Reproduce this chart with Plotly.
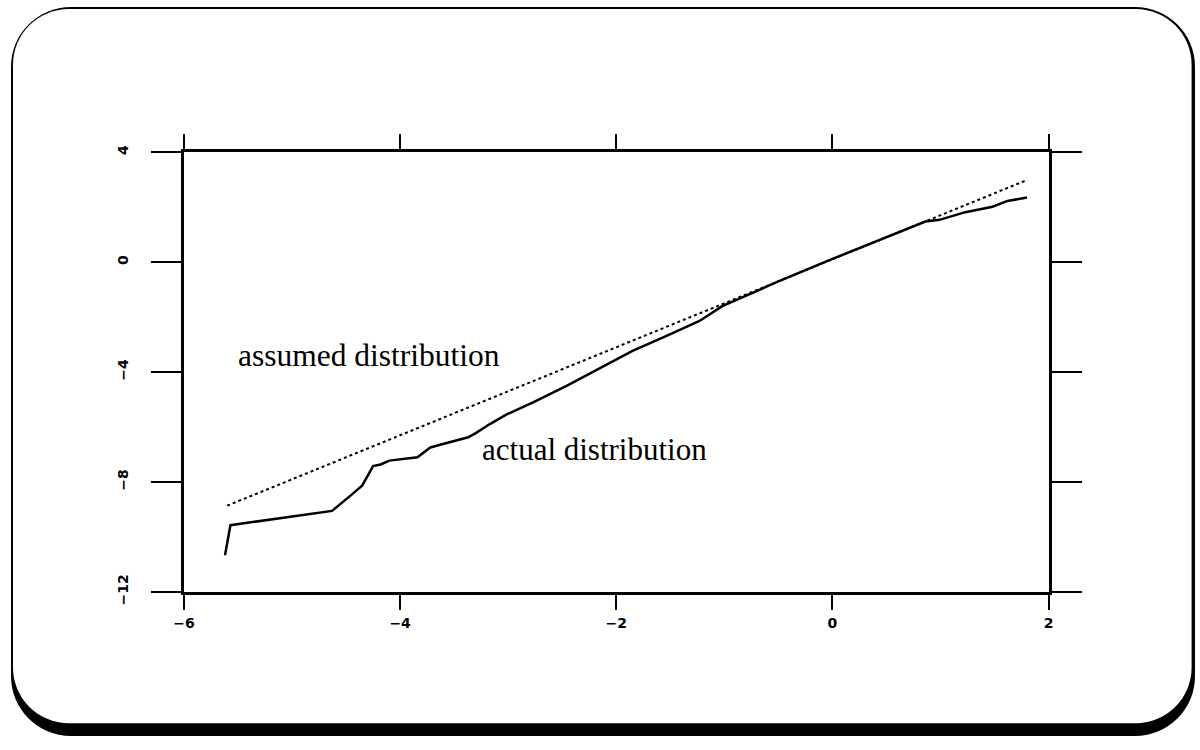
import plotly.graph_objects as go

# Quantile comparison: assumed (straight reference) vs actual distribution
assumed_x = [-5.6, 1.8]
assumed_y = [-8.86, 2.99]

actual_x = [-5.62, -5.57, -4.63, -4.52, -4.44, -4.35, -4.30, -4.25, -4.18, -4.10,
            -3.84, -3.72, -3.63, -3.47, -3.37, -3.30, -3.17, -3.01, -2.77, -2.46,
            -2.15, -1.85, -1.54, -1.23, -1.02, -0.50, 0.0, 0.50, 0.86, 0.99,
            1.23, 1.48, 1.62, 1.80]
actual_y = [-10.66, -9.57, -9.05, -8.67, -8.43, -8.12, -7.76, -7.42, -7.36, -7.22,
            -7.10, -6.74, -6.64, -6.47, -6.37, -6.22, -5.89, -5.53, -5.10, -4.50,
            -3.84, -3.23, -2.69, -2.14, -1.60, -0.70, 0.12, 0.90, 1.48, 1.54,
            1.82, 2.02, 2.23, 2.35]

x_ticks = [-6, -4, -2, 0, 2]
y_ticks = [-12, -8, -4, 0, 4]

labels = ["assumed distribution", "actual distribution"]

W, H = 1200, 750

# Page placement of the figure (offset and scale in the window)
OX, SX = 8.0, 0.987
OY, SY = 7.0, 0.977


def fx(s):
    """window pixel x -> figure pixel x"""
    return (s - OX) / SX


def fy(s):
    """window pixel y -> figure pixel y"""
    return (s - OY) / SY


def px(x):
    return x / W


def py(y):
    return 1 - y / H


def rounded_rect(x0, y0, x1, y1, r):
    kx = 0.5523 * r / SX
    ky = 0.5523 * r / SY
    rx = r / SX
    ry = r / SY
    pts = [
        ("M", [(x0 + rx, y0)]),
        ("L", [(x1 - rx, y0)]),
        ("C", [(x1 - rx + kx, y0), (x1, y0 + ry - ky), (x1, y0 + ry)]),
        ("L", [(x1, y1 - ry)]),
        ("C", [(x1, y1 - ry + ky), (x1 - rx + kx, y1), (x1 - rx, y1)]),
        ("L", [(x0 + rx, y1)]),
        ("C", [(x0 + rx - kx, y1), (x0, y1 - ry + ky), (x0, y1 - ry)]),
        ("L", [(x0, y0 + ry)]),
        ("C", [(x0, y0 + ry - ky), (x0 + rx - kx, y0), (x0 + rx, y0)]),
    ]
    out = []
    for cmd, coords in pts:
        out.append(cmd + " " + " ".join(f"{px(a):.5f},{py(b):.5f}" for a, b in coords))
    return " ".join(out) + " Z"


fig = go.Figure()

fig.add_trace(go.Scatter(
    x=assumed_x, y=assumed_y, mode="lines",
    line=dict(color="black", width=2, dash="dot"),
    showlegend=False, hoverinfo="skip",
))
fig.add_trace(go.Scatter(
    x=actual_x, y=actual_y, mode="lines",
    line=dict(color="black", width=2.5),
    showlegend=False, hoverinfo="skip",
))

# Frame: heavy lower/right edge, thin upper/left edge
fig.add_shape(type="path", xref="paper", yref="paper", layer="below",
              path=rounded_rect(0, 0, W, H, 60),
              fillcolor="black", line=dict(width=0))
fig.add_shape(type="path", xref="paper", yref="paper", layer="below",
              path=rounded_rect(2, 2, fx(1189), fy(727), 56),
              fillcolor="white", line=dict(width=0))

tick_font = dict(family="DejaVu Sans", size=14, color="black", weight="bold")

fig.update_xaxes(
    range=[-6, 2], domain=[fx(181) / W, fx(1046) / W],
    tickmode="array", tickvals=x_ticks, ticktext=[str(v).replace("-", "\u2212") for v in x_ticks],
    ticks="outside", ticklen=15, tickwidth=1.5, tickcolor="black",
    showline=True, linewidth=3, linecolor="black", mirror="allticks",
    showgrid=False, zeroline=False, tickfont=tick_font, ticklabelstandoff=1,
)
fig.update_yaxes(
    range=[-12, 4], domain=[1 - fy(595) / H, 1 - fy(153) / H],
    tickmode="array", tickvals=y_ticks, ticktext=[str(v).replace("-", "\u2212") for v in y_ticks],
    ticks="outside", ticklen=30, tickwidth=1.5, tickcolor="black",
    showline=True, linewidth=3, linecolor="black", mirror="allticks",
    showgrid=False, zeroline=False, tickfont=tick_font, tickangle=-90,
    ticklabelstandoff=17,
)

fig.add_annotation(x=px(fx(233)), y=py(fy(357)), xref="paper", yref="paper",
                   text=labels[0], showarrow=False, xanchor="left", yanchor="middle",
                   font=dict(family="Liberation Serif", size=31.5, color="black"))
fig.add_annotation(x=px(fx(477)), y=py(fy(452)), xref="paper", yref="paper",
                   text=labels[1], showarrow=False, xanchor="left", yanchor="middle",
                   font=dict(family="Liberation Serif", size=31, color="black"))

fig.update_layout(
    width=W, height=H,
    margin=dict(l=0, r=0, t=0, b=0),
    paper_bgcolor="white", plot_bgcolor="white",
    showlegend=False,
)

fig.write_html("out.html")
